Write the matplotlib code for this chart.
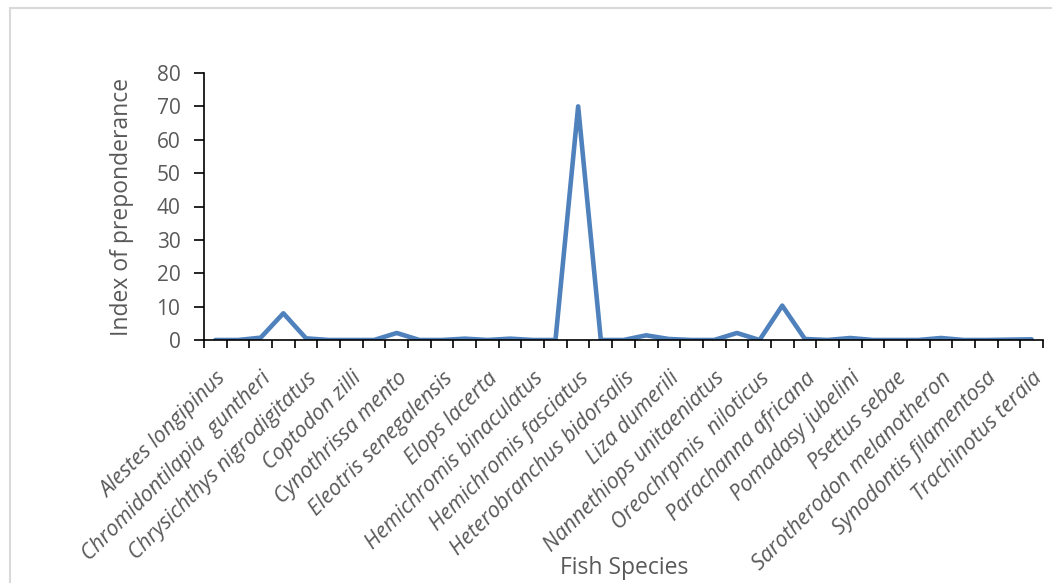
import numpy as np
import matplotlib
matplotlib.use("Agg")
import matplotlib.pyplot as plt
from matplotlib.patches import Rectangle

plt.rcParams['font.family'] = ['Open Sans', 'DejaVu Sans']

# species names printed on the axis (every second category is labelled)
species = ["Alestes longipinus", "Chromidontilapia  guntheri", "Chrysichthys nigrodigitatus",
           "Coptodon zilli", "Cynothrissa mento", "Eleotris senegalensis", "Elops lacerta",
           "Hemichromis binaculatus", "Hemichromis fasciatus", "Heterobranchus bidorsalis",
           "Liza dumerili", "Nannethiops unitaeniatus", "Oreochrpmis  niloticus",
           "Parachanna africana", "Pomadasy jubelini", "Psettus sebae",
           "Sarotherodon melanotheron", "Synodontis filamentosa", "Trachinotus teraia"]

# index of preponderance for all 37 species
ip = [0, 0, 0.7, 8.0, 0.5, 0, 0, 0, 2.1, 0, 0, 0.4, 0, 0.4, 0, 0, 70.0,
      0, 0, 1.4, 0.3, 0, 0, 2.1, 0, 10.3, 0.3, 0, 0.6, 0, 0, 0, 0.6, 0, 0, 0.1, 0.2]

grey = '#595959'
blue = '#4F81BD'

fig = plt.figure(figsize=(10.52, 5.83), dpi=100)
fig.patches.append(Rectangle((10 / 1052, -0.1), 1.2, 1 - 8 / 583 + 0.1,
                             transform=fig.transFigure, fill=False,
                             edgecolor='#d9d9d9', linewidth=1.5))

ax = fig.add_axes([204 / 1052, 1 - 340 / 583, (1043 - 204) / 1052, (340 - 73) / 583])
x = np.arange(len(ip))
ax.plot(x, ip, color=blue, linewidth=3.3, solid_joinstyle='round', solid_capstyle='round')

ax.set_xlim(-0.5, len(ip) - 0.5)
ax.set_ylim(0, 80)
ax.set_yticks(np.arange(0, 81, 10))
ax.tick_params(axis='y', direction='out', length=7, width=1.2, colors='black',
               labelcolor=grey, labelsize=15, pad=10)

# tick marks between categories, labels at every other category
ax.set_xticks(np.arange(-0.5, len(ip)), minor=False)
ax.set_xticklabels([])
ax.set_xticks(x[::2], minor=True)
ax.set_xticklabels(species, minor=True, rotation=45, ha='right',
                   rotation_mode='anchor', color=grey, fontsize=15.5, style='italic')
ax.tick_params(axis='x', which='major', direction='out', length=6, width=1.2)
ax.tick_params(axis='x', which='minor', length=0, pad=20)

for s in ['top', 'right']:
    ax.spines[s].set_visible(False)
for s in ['left', 'bottom']:
    ax.spines[s].set_linewidth(1.2)

ax.set_ylabel('Index of preponderance', color=grey, fontsize=16.5, labelpad=16)
fig.text(624 / 1052, 1 - 568 / 583, 'Fish Species', color=grey, fontsize=16.5,
         ha='center', va='center')

fig.savefig('out.png', dpi=100)
